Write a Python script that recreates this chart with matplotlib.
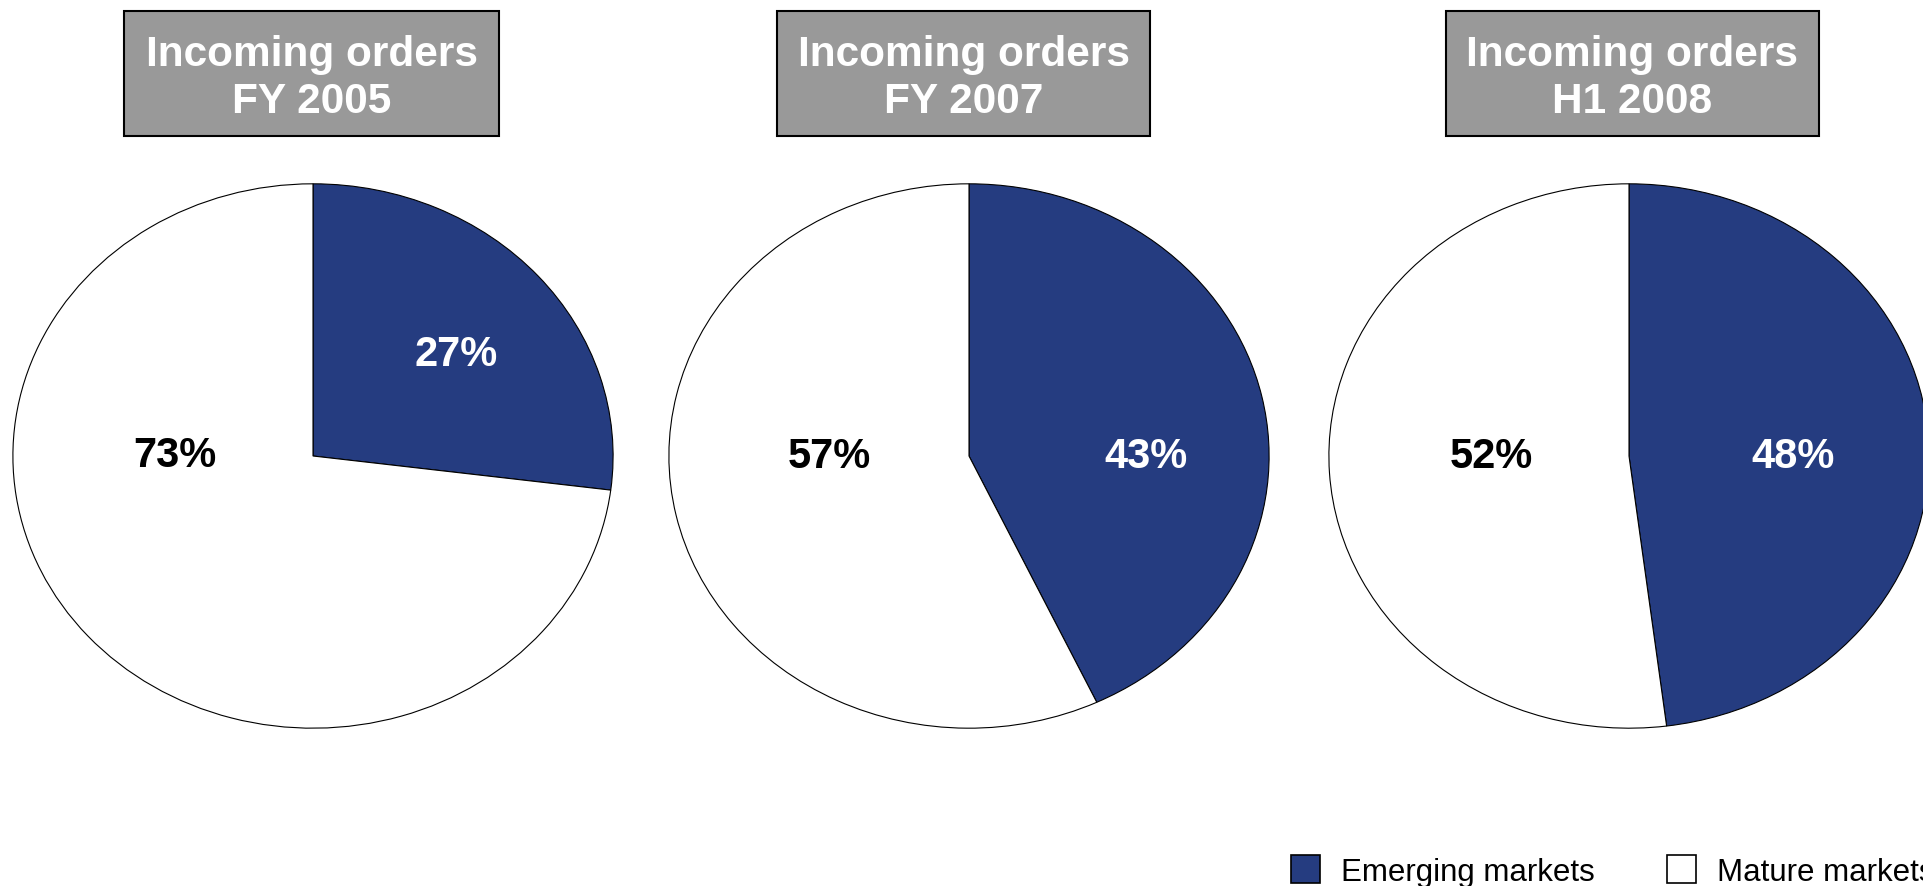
import matplotlib.pyplot as plt
from matplotlib.patches import Rectangle, Patch

# data
titles = ["Incoming orders\nFY 2005", "Incoming orders\nFY 2007", "Incoming orders\nH1 2008"]
series = ["Emerging markets", "Mature markets"]
emerging = [27, 43, 48]
mature = [73, 57, 52]

blue = "#253c80"
grey = "#999999"

W, H = 1923, 887
fig = plt.figure(figsize=(W / 100, H / 100), dpi=100)
plt.rcParams['font.family'] = ['Liberation Sans', 'DejaVu Sans']

# layout in pixels (centre x of pie, title box left/right)
pie_cx = [313, 969, 1629]
pie_cy = 457
rx, ry = 301, 273
box_x = [(124, 499), (777, 1150), (1446, 1819)]
box_y = (12, 137)
# label positions in pie data coords (mature, emerging)
lab_pos = [((-0.46, -0.035), (0.477, 0.335)),
           ((-0.464, -0.04), (0.59, -0.04)),
           ((-0.46, -0.04), (0.547, -0.04))]

for i in range(3):
	ax = fig.add_axes([(pie_cx[i] - rx) / W, (H - pie_cy - ry) / H, 2 * rx / W, 2 * ry / H])
	wedges, _ = ax.pie([emerging[i], mature[i]], colors=[blue, "white"], startangle=90,
		counterclock=False, radius=1,
		wedgeprops=dict(edgecolor="black", linewidth=0.8))
	ax.set_aspect('auto')
	ax.set_xlim(-1.003, 1.003)
	ax.set_ylim(-1.003, 1.003)
	ax.axis('off')
	(mx, my), (ex, ey) = lab_pos[i]
	ax.text(mx, my, "%d%%" % mature[i], ha='center', va='baseline', fontsize=30,
		fontweight='bold', color='black')
	ax.text(ex, ey, "%d%%" % emerging[i], ha='center', va='baseline', fontsize=30,
		fontweight='bold', color='white')

	# title box
	x0, x1 = box_x[i]
	y0, y1 = box_y
	fig.patches.append(Rectangle((x0 / W, 1 - y1 / H), (x1 - x0) / W, (y1 - y0) / H,
		transform=fig.transFigure, facecolor=grey, edgecolor='black', linewidth=1.5))
	fig.text((x0 + x1) / 2 / W, 1 - ((y0 + y1) / 2 + 4) / H, titles[i], ha='center', va='center',
		fontsize=30.5, fontweight='bold', color='white', linespacing=1.22)

leg_handles = [Patch(facecolor=blue, edgecolor='black', linewidth=1.2),
	Patch(facecolor='white', edgecolor='black', linewidth=1.2)]
fig.legend(leg_handles, series, loc='center left', bbox_to_anchor=(1291 / W, 1 - 872 / H),
	ncol=2, frameon=False, borderpad=0, borderaxespad=0,
	handlelength=0.93, handleheight=0.98, handletextpad=0.68, columnspacing=2.3,
	prop={'size': 22.5})

fig.savefig("out.png", dpi=100)
